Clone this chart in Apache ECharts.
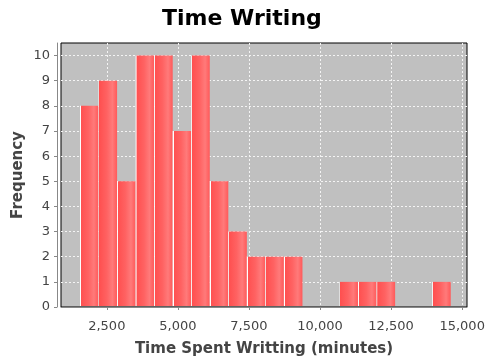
<!DOCTYPE html>
<html>
<head>
<meta charset="utf-8">
<script src="https://cdn.jsdelivr.net/npm/echarts@6/dist/echarts.min.js"></script>
<style>
html, body { margin: 0; padding: 0; background: #fff; }
#chart { width: 485px; height: 362px; }
</style>
</head>
<body>
<div id="chart"></div>
<script>
// histogram bins
var binStart = 1558;
var binWidth = 652;
var counts = [8, 9, 5, 10, 10, 7, 10, 5, 3, 2, 2, 2, 0, 0, 1, 1, 1, 0, 0, 1];
var xTicks = [2500, 5000, 7500, 10000, 12500, 15000];
var yTicks = [0, 1, 2, 3, 4, 5, 6, 7, 8, 9, 10];

var binData = [];
for (var i = 0; i < counts.length; i++) {
	if (counts[i] > 0) {
		binData.push([binStart + i * binWidth, binStart + (i + 1) * binWidth, counts[i]]);
	}
}

var barFill = {
	type: 'linear', x: 0, y: 0, x2: 1, y2: 0,
	colorStops: [
		{ offset: 0, color: '#ffffff' },
		{ offset: 0.045, color: '#ffffff' },
		{ offset: 0.05, color: '#ff5050' },
		{ offset: 0.45, color: '#ff6262' },
		{ offset: 0.75, color: '#ff7a7a' },
		{ offset: 0.9, color: '#ff6666' },
		{ offset: 1, color: '#ff5a5a' }
	]
};

var byId = function(id) {
	return document.getElementById(id);
};
var chart = echarts.init(byId('chart'));
chart.setOption({
	animation: false,
	title: {
		text: 'Time Writing',
		left: 157,
		top: 3,
		textStyle: {
			fontFamily: 'DejaVu Sans',
			fontWeight: 'bold',
			fontSize: 22,
			color: '#000'
		}
	},
	grid: {
		left: 61,
		right: 18,
		top: 43,
		bottom: 55,
		outerBoundsMode: 'none',
		containLabel: false,
		show: true,
		backgroundColor: '#c0c0c0',
		borderColor: '#000',
		borderWidth: 1
	},
	xAxis: {
		type: 'value',
		min: 889,
		max: 15170,
		offset: 4,
		name: 'Time Spent Writting (minutes)',
		nameLocation: 'middle',
		nameGap: 31,
		nameMoveOverlap: false,
		nameTextStyle: {
			fontFamily: 'DejaVu Sans',
			fontWeight: 'bold',
			fontSize: 15,
			color: '#444'
		},
		axisLine: { show: true, lineStyle: { color: '#888', width: 1 } },
		axisTick: { show: true, length: 3, customValues: xTicks, lineStyle: { color: '#888' } },
		axisLabel: {
			customValues: xTicks,
			fontFamily: 'DejaVu Sans',
			fontSize: 13,
			color: '#444',
			margin: 9,
			formatter: function(v) { return v.toLocaleString('en-US'); }
		},
		splitLine: { show: true, lineStyle: { color: '#f4f4f4', type: [2, 2], width: 1 } }
	},
	yAxis: {
		type: 'value',
		min: 0,
		max: 10.5,
		offset: 4,
		name: 'Frequency',
		nameLocation: 'middle',
		nameGap: 31,
		nameMoveOverlap: false,
		nameTextStyle: {
			fontFamily: 'DejaVu Sans',
			fontWeight: 'bold',
			fontSize: 15,
			color: '#444'
		},
		axisLine: { show: true, lineStyle: { color: '#888', width: 1 } },
		axisTick: { show: true, length: 3, customValues: yTicks, lineStyle: { color: '#888' } },
		axisLabel: {
			customValues: yTicks,
			fontFamily: 'DejaVu Sans',
			fontSize: 13,
			color: '#444',
			margin: 7
		},
		splitLine: { show: true, lineStyle: { color: '#f4f4f4', type: [2, 2], width: 1 } }
	},
	series: [{
		type: 'custom',
		data: binData,
		encode: { x: [0, 1], y: 2 },
		renderItem: function(params, api) {
			var p0 = api.coord([api.value(0), api.value(2)]);
			var p1 = api.coord([api.value(1), 0]);
			return {
				type: 'rect',
				shape: { x: p0[0], y: p0[1], width: p1[0] - p0[0], height: p1[1] - p0[1] - 1 },
				style: { fill: barFill }
			};
		}
	}]
});
</script>
</body>
</html>
